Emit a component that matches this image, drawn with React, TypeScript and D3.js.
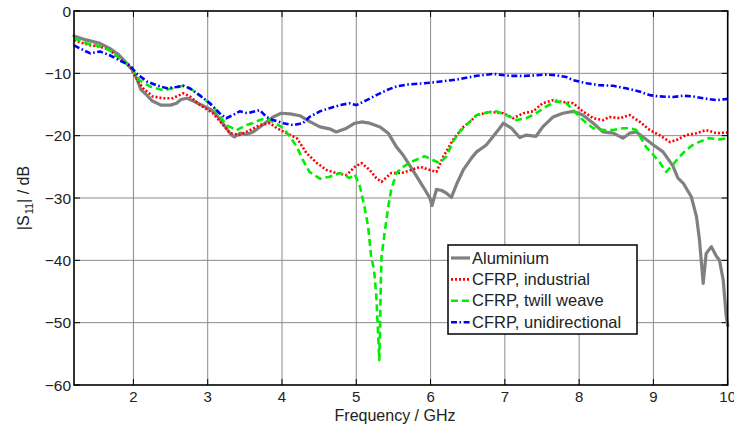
import React from "react";
import * as d3 from "d3";

const xTicks = [2, 3, 4, 5, 6, 7, 8, 9, 10];
const yTicks = [0, -10, -20, -30, -40, -50, -60];

const aluminium: [number, number][] = [
  [1.2,-4.0],[1.35,-4.6],[1.55,-5.2],[1.68,-6.0],[1.8,-7.0],[1.91,-8.4],[1.99,-9.5],[2.05,-11.0],[2.1,-12.6],[2.18,-13.5],[2.25,-14.4],[2.37,-15.1],[2.5,-15.1],[2.58,-14.8],[2.64,-14.2],[2.72,-14.0],[2.8,-14.4],[2.9,-15.0],[3.04,-15.8],[3.12,-16.7],[3.22,-18.3],[3.31,-19.8],[3.36,-20.2],[3.44,-19.6],[3.52,-19.8],[3.61,-19.4],[3.74,-18.3],[3.88,-17.0],[3.99,-16.4],[4.11,-16.5],[4.24,-16.8],[4.38,-17.8],[4.51,-18.6],[4.64,-18.9],[4.73,-19.4],[4.87,-18.8],[4.98,-18.0],[5.07,-17.8],[5.18,-18.0],[5.32,-18.6],[5.43,-19.6],[5.54,-21.8],[5.63,-23.1],[5.7,-24.4],[5.8,-26.3],[5.9,-28.2],[5.99,-30.0],[6.02,-31.2],[6.08,-28.6],[6.15,-28.8],[6.21,-29.2],[6.28,-29.9],[6.35,-27.8],[6.44,-25.5],[6.55,-23.6],[6.62,-22.6],[6.75,-21.5],[6.89,-19.4],[6.98,-18.0],[7.09,-18.8],[7.2,-20.3],[7.29,-19.9],[7.42,-20.1],[7.51,-18.6],[7.65,-17.0],[7.78,-16.4],[7.92,-16.1],[8.05,-16.7],[8.19,-18.0],[8.32,-19.4],[8.46,-19.6],[8.59,-20.4],[8.68,-19.6],[8.77,-19.4],[8.86,-20.2],[9.0,-21.5],[9.13,-22.6],[9.26,-24.8],[9.33,-26.8],[9.4,-27.6],[9.51,-29.8],[9.58,-33.0],[9.62,-36.7],[9.67,-43.7],[9.71,-38.9],[9.78,-37.8],[9.85,-39.4],[9.89,-40.0],[9.94,-43.2],[9.98,-49.0],[10.0,-50.5]
];

const cfrpIndustrial: [number, number][] = [
  [1.2,-4.7],[1.42,-5.5],[1.55,-5.7],[1.68,-6.3],[1.81,-7.6],[1.95,-8.9],[2.04,-10.8],[2.13,-12.4],[2.26,-13.7],[2.4,-14.0],[2.53,-14.0],[2.67,-13.2],[2.76,-13.7],[2.9,-15.1],[3.07,-16.4],[3.21,-18.3],[3.3,-19.6],[3.43,-19.9],[3.57,-19.1],[3.7,-18.3],[3.84,-18.0],[3.93,-18.8],[4.06,-19.6],[4.2,-20.4],[4.33,-22.8],[4.47,-24.4],[4.6,-25.5],[4.73,-26.0],[4.87,-26.3],[4.98,-25.0],[5.07,-24.4],[5.18,-25.5],[5.27,-26.8],[5.34,-27.4],[5.47,-26.0],[5.61,-26.0],[5.74,-25.5],[5.86,-25.0],[5.99,-25.5],[6.08,-25.8],[6.17,-23.4],[6.3,-20.7],[6.44,-18.6],[6.53,-17.8],[6.62,-16.7],[6.8,-16.2],[6.98,-16.4],[7.11,-17.2],[7.25,-16.4],[7.38,-16.1],[7.51,-14.8],[7.65,-14.3],[7.78,-14.6],[7.92,-14.8],[8.05,-16.1],[8.19,-17.2],[8.32,-17.5],[8.41,-17.0],[8.55,-17.2],[8.68,-16.7],[8.82,-17.8],[8.95,-19.1],[9.08,-19.9],[9.22,-21.0],[9.31,-20.7],[9.44,-19.9],[9.58,-19.6],[9.71,-19.1],[9.85,-19.6],[10.0,-19.5]
];

const cfrpTwill: [number, number][] = [
  [1.2,-4.4],[1.38,-5.2],[1.55,-5.7],[1.68,-6.3],[1.81,-7.6],[1.95,-8.7],[1.99,-9.5],[2.08,-11.1],[2.22,-12.1],[2.4,-12.7],[2.53,-12.4],[2.67,-12.0],[2.8,-12.7],[2.94,-14.0],[3.07,-15.3],[3.16,-16.7],[3.25,-18.3],[3.39,-19.1],[3.52,-18.3],[3.6,-18.0],[3.7,-17.5],[3.79,-17.2],[3.88,-17.8],[4.02,-18.8],[4.11,-20.2],[4.2,-21.8],[4.28,-23.9],[4.37,-25.8],[4.51,-26.9],[4.64,-26.6],[4.78,-26.0],[4.91,-26.8],[4.98,-26.2],[5.05,-28.2],[5.11,-31.4],[5.16,-34.6],[5.2,-39.4],[5.24,-41.6],[5.27,-45.8],[5.29,-50.7],[5.31,-56.0],[5.32,-51.2],[5.33,-43.7],[5.34,-39.4],[5.38,-35.7],[5.43,-31.4],[5.47,-28.7],[5.54,-26.0],[5.63,-25.0],[5.74,-24.2],[5.86,-23.6],[5.92,-23.3],[6.03,-23.9],[6.12,-24.4],[6.21,-23.4],[6.3,-21.0],[6.39,-19.4],[6.48,-18.3],[6.62,-16.7],[6.75,-16.3],[6.89,-16.1],[7.02,-16.7],[7.16,-17.5],[7.29,-17.2],[7.42,-16.4],[7.56,-15.3],[7.69,-14.5],[7.83,-14.8],[7.92,-15.9],[8.05,-17.5],[8.19,-18.8],[8.32,-19.1],[8.46,-19.1],[8.59,-18.8],[8.68,-18.8],[8.77,-19.1],[8.9,-21.8],[9.0,-23.1],[9.08,-24.2],[9.17,-25.8],[9.26,-24.7],[9.35,-23.4],[9.44,-22.3],[9.53,-21.5],[9.62,-21.0],[9.75,-20.4],[9.89,-20.6],[10.0,-20.4]
];

const cfrpUni: [number, number][] = [
  [1.2,-5.5],[1.33,-6.3],[1.42,-6.8],[1.55,-6.5],[1.68,-7.1],[1.81,-7.9],[1.95,-8.7],[2.04,-10.0],[2.18,-11.3],[2.31,-11.9],[2.45,-12.4],[2.58,-12.2],[2.67,-12.0],[2.76,-12.4],[2.89,-13.5],[3.03,-14.8],[3.16,-16.4],[3.25,-17.2],[3.34,-16.7],[3.43,-16.1],[3.54,-16.4],[3.7,-15.9],[3.79,-17.0],[3.88,-17.5],[4.02,-18.0],[4.15,-18.3],[4.28,-18.0],[4.37,-17.0],[4.51,-16.1],[4.64,-15.6],[4.78,-15.1],[4.91,-14.8],[5.0,-15.1],[5.14,-14.3],[5.27,-13.5],[5.41,-12.7],[5.54,-12.1],[5.68,-11.8],[5.9,-11.6],[6.08,-11.4],[6.35,-11.0],[6.62,-10.4],[6.84,-10.1],[7.07,-10.4],[7.29,-10.4],[7.56,-10.2],[7.69,-10.3],[7.83,-10.6],[7.92,-11.1],[8.1,-11.6],[8.28,-11.9],[8.46,-12.0],[8.63,-12.4],[8.81,-12.9],[8.95,-13.5],[9.08,-13.7],[9.26,-13.8],[9.4,-13.6],[9.53,-13.7],[9.67,-14.0],[9.85,-14.3],[10.0,-14.1]
];

const seriesNames = ["Aluminium", "CFRP, industrial", "CFRP, twill weave", "CFRP, unidirectional"];
const seriesData = [aluminium, cfrpIndustrial, cfrpTwill, cfrpUni];
const seriesStyles = [
  { color: "#808080", width: 3.2, dash: "none" },
  { color: "#ff0000", width: 2.6, dash: "2,2" },
  { color: "#00ee00", width: 2.6, dash: "7,4" },
  { color: "#0000ff", width: 2.6, dash: "6,2.5,1.6,2.5" },
];

const W = 734, H = 428;
const L = 74, R = 727.7, T = 11, B = 385;
const FONT = "'Liberation Sans', Arial, sans-serif";

export default function App() {
  const x = d3.scaleLinear().domain([1.2, 10]).range([L, R]);
  const y = d3.scaleLinear().domain([-60, 0]).range([B, T]);
  const line = d3.line<[number, number]>().x(d => x(d[0])).y(d => y(d[1]));

  const lx = 448, ly = 245, lw = 189, lh = 89;
  return (
    <svg width={W} height={H} style={{ position: "absolute", left: 0, top: 0, background: "#fff" }} fontFamily={FONT}>
      <rect x={0} y={0} width={W} height={H} fill="#fff" />
      {/* grid */}
      {xTicks.slice(0, -1).map(t => (
        <line key={"gx" + t} x1={x(t)} x2={x(t)} y1={T} y2={B} stroke="#8a8a8a" strokeWidth={1} />
      ))}
      {yTicks.slice(1, -1).map(t => (
        <line key={"gy" + t} x1={L} x2={R} y1={y(t)} y2={y(t)} stroke="#8a8a8a" strokeWidth={1} />
      ))}
      {/* ticks */}
      {xTicks.map(t => (
        <g key={"tx" + t}>
          <line x1={x(t)} x2={x(t)} y1={B} y2={B - 6} stroke="#000" strokeWidth={1} />
          <line x1={x(t)} x2={x(t)} y1={T} y2={T + 6} stroke="#000" strokeWidth={1} />
          <text x={x(t)} y={402} textAnchor="middle" fontSize={15} fill="#222">{t}</text>
        </g>
      ))}
      {yTicks.map(t => (
        <g key={"ty" + t}>
          <line x1={L} x2={L + 6} y1={y(t)} y2={y(t)} stroke="#000" strokeWidth={1} />
          <line x1={R} x2={R - 6} y1={y(t)} y2={y(t)} stroke="#000" strokeWidth={1} />
          <text x={71} y={y(t) + 5.5} textAnchor="end" fontSize={15.5} fill="#222">{t === 0 ? "0" : "\u2212" + Math.abs(t)}</text>
        </g>
      ))}
      {/* series */}
      <g>
        {seriesData.map((d, i) => (
          <path key={i} d={line(d) || ""} fill="none" stroke={seriesStyles[i].color}
            strokeWidth={seriesStyles[i].width} strokeDasharray={seriesStyles[i].dash}
            strokeLinejoin="round" strokeLinecap={i === 0 ? "round" : "butt"} />
        ))}
      </g>
      {/* frame */}
      <rect x={L} y={T} width={R - L} height={B - T} fill="none" stroke="#000" strokeWidth={1.6} />
      {/* axis labels */}
      <text x={395} y={420.5} textAnchor="middle" fontSize={16} fill="#222">Frequency / GHz</text>
      <text transform="translate(29,198) rotate(-90)" textAnchor="middle" fontSize={16} fill="#222">
        |S<tspan fontSize={11} dy={4} dx={1}>11</tspan><tspan dy={-4}>| / dB</tspan>
      </text>
      {/* legend */}
      <rect x={lx} y={ly} width={lw} height={lh} fill="#fff" stroke="#000" strokeWidth={1.5} />
      {seriesNames.map((n, i) => {
        const yy = 258 + i * 21.4;
        return (
          <g key={n}>
            <line x1={451} x2={470} y1={yy} y2={yy} stroke={seriesStyles[i].color}
              strokeWidth={seriesStyles[i].width} strokeDasharray={seriesStyles[i].dash} />
            <text x={472} y={yy + 5.5} fontSize={16.5} fill="#222">{n}</text>
          </g>
        );
      })}
    </svg>
  );
}
